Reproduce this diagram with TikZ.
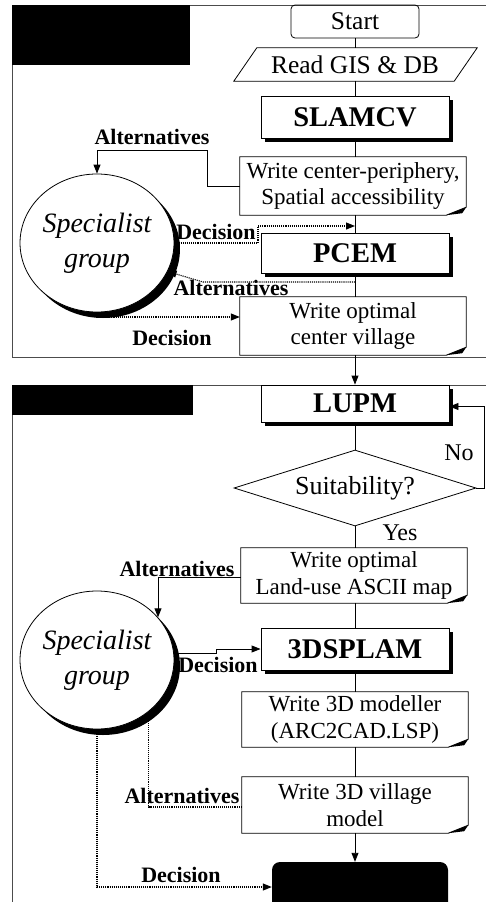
\documentclass[tikz,border=0pt]{standalone}
\usepackage{fontspec}
\setmainfont{Liberation Serif}
\usetikzlibrary{arrows.meta,shapes.geometric,shadows,calc}
\newcommand\docshape[1]{%
  \draw[boxline] (#1.north west) -- (#1.north east) -- ([yshift=8pt]#1.south east) -- ([xshift=-20pt]#1.south east) -- (#1.south west) -- cycle;
  \fill ([xshift=-20pt]#1.south east) -- ([yshift=8pt]#1.south east) -- ([xshift=-4pt,yshift=2pt]#1.south east) -- cycle;}
\begin{document}
\begin{tikzpicture}[x=1pt,y=-1pt,
  frame/.style={draw=black!70, line width=0.8pt},
  boxline/.style={line width=0.8pt},
  conn/.style={line width=0.9pt},
  arr/.style={line width=0.9pt, -{Triangle[length=9pt,width=7pt]}},
  dots/.style={densely dotted, line width=1.1pt},
  darr/.style={densely dotted, line width=1.1pt, -{Triangle[length=9pt,width=7pt]}},
  namebox/.style={draw, line width=0.9pt, fill=white, minimum width=188pt, inner sep=0pt,
     font=\fontsize{28.5}{31}\selectfont\bfseries,
     drop shadow={shadow xshift=3.5pt, shadow yshift=-3.5pt, fill=black, opacity=1}},
  docbox/.style={fill=white, minimum width=226pt, inner sep=0pt, align=center,
     font=\fontsize{23}{26.5}\selectfont},
  lab/.style={inner sep=0pt, font=\fontsize{22}{24}\selectfont\bfseries},
  yn/.style={inner sep=0pt, font=\fontsize{24}{26}\selectfont},
  grp/.style={ellipse, draw, fill=white, line width=0.8pt, minimum width=150pt, minimum height=138pt,
     inner sep=0pt, align=center, font=\fontsize{28}{35}\selectfont\itshape,
     drop shadow={shadow xshift=6pt, shadow yshift=-6pt, fill=black, opacity=1}}]
\useasboundingbox (0,0) rectangle (486,902);
\clip (0,0) rectangle (486,902);
\fill[white] (0,0) rectangle (486,902);
% panels
\draw[frame] (12,5) rectangle (520,357);
\draw[frame] (12,385) rectangle (520,940);
\fill (12,5) rectangle (190,65);
\fill (12,385) rectangle (193,415);
% main column
\node[draw, line width=0.8pt, rounded corners=4pt, minimum width=128pt, minimum height=33pt, inner sep=0pt,
  font=\fontsize{25.5}{27}\selectfont] (start) at (355,21.5) {Start};
\node[minimum width=220pt, minimum height=33pt, inner sep=0pt, font=\fontsize{25.5}{27}\selectfont] (read) at (355,64.5) {Read GIS \& DB};
\draw[boxline] ([xshift=-11pt]read.south west) -- ([xshift=12pt]read.north west) -- ([xshift=12pt]read.north east) -- ([xshift=-11pt]read.south east) -- cycle;
\node[namebox, minimum height=42pt] (slam) at (355,117) {SLAMCV};
\node[docbox, minimum height=58pt] (wcp) at (353,186) {Write center-periphery,\\Spatial accessibility};
\docshape{wcp}
\node[namebox, minimum height=40pt] (pcem) at (355,253) {PCEM};
\node[docbox, minimum height=58pt] (wocv) at (353,326) {Write optimal\\center village};
\docshape{wocv}
\node[namebox, minimum height=37pt] (lupm) at (355,403.5) {LUPM};
\node[diamond, draw, line width=0.8pt, aspect=3.18, minimum width=242pt, minimum height=76pt, inner sep=0pt,
  font=\fontsize{26}{28}\selectfont] (suit) at (355,488) {Suitability?};
\node[docbox, minimum height=55pt] (wlu) at (354,575.5) {Write optimal\\Land-use ASCII map};
\docshape{wlu}
\node[namebox, minimum height=42pt] (dspl) at (355,649) {3DSPLAM};
\node[docbox, minimum height=55pt] (w3dm) at (355,719.5) {Write 3D modeller\\(ARC2CAD.LSP)};
\docshape{w3dm}
\node[docbox, minimum height=56pt] (w3dv) at (355,805) {Write 3D village\\model};
\docshape{w3dv}
\node[fill=black, rounded corners=8pt, minimum width=176pt, minimum height=50pt] (endb) at (360,887) {};
% specialist groups
\node[grp] (c1) at (97,243) {Specialist\\group};
\node[grp] (c2) at (97,660) {Specialist\\group};
% main connectors
\draw[conn] (start.south) -- (read.north);
\draw[conn] (read.south) -- (slam.north);
\draw[conn] (slam.south) -- (slam.south |- wcp.north);
\draw[conn] (slam.south |- wcp.south) -- (pcem.north);
\draw[conn] (pcem.south) -- (pcem.south |- wocv.north);
\draw[arr] (pcem.south |- wocv.south) -- (lupm.north);
\draw[conn] (lupm.south) -- (suit.north);
\draw[conn] (suit.south) -- (suit.south |- wlu.north);
\draw[conn] (suit.south |- wlu.south) -- (dspl.north);
\draw[conn] (dspl.south) -- (w3dm.north);
\draw[conn] (w3dm.south) -- (w3dv.north);
\draw[arr] (w3dv.south) -- (w3dv.south |- endb.north);
% top panel feedback
\coordinate (a1) at (207,150);
\draw[arr] (wcp.west) -| (a1) -| (c1.north);
\node[lab] (la1) at (152,137) {Alternatives};
\coordinate (d1) at (258,226);
\coordinate (m1) at (355,226);
\draw[darr] (c1.east) -| (d1) -- (m1);
\node[lab] (ld1) at (216,232) {Decision};
\coordinate (m2) at (355,282);
\coordinate (d2) at (203,282);
\draw[darr] (m2) -- (d2) -- (c1.-22);
\node[lab] (la2) at (231,288) {Alternatives};
\draw[darr] (c1.south) |- ([yshift=9pt]wocv.west);
\node[lab] (ld2) at (172,338) {Decision};
% bottom panel
\draw[arr] (suit.east) -- ++(8,0) |- ([yshift=-3pt]lupm.east);
\node[yn] (no) at (459,453) {No};
\node[yn] (yes) at (400,533) {Yes};
\draw[arr] ([yshift=-2pt]wlu.west) -| (c2.35);
\node[lab] (la3) at (177,569) {Alternatives};
\draw[arr] (c2.5) -- ++(42,0) |- (dspl.west);
\node[lab] (ld3) at (218,665) {Decision};
\draw[dots] ([yshift=-2pt]w3dv.west) -| (c2.-45);
\node[lab] (la4) at (182,796) {Alternatives};
\draw[darr] (c2.south) |- (endb.west);
\node[lab] (ld4) at (181,875) {Decision};
\end{tikzpicture}
\end{document}
